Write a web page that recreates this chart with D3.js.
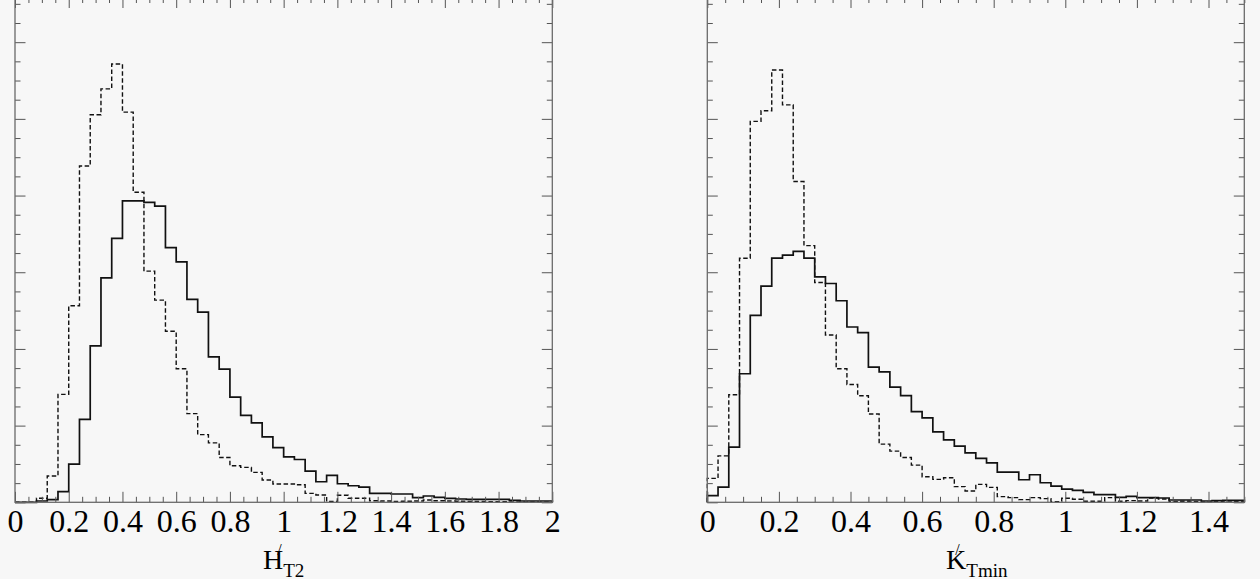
<!DOCTYPE html>
<html>
<head>
<meta charset="utf-8">
<script src="https://cdn.jsdelivr.net/npm/d3@7"></script>
<style>
  html, body { margin: 0; padding: 0; background: #f7f7f7; }
  svg { display: block; }
  .serif, .serif text { font-family: "Liberation Serif", "Times New Roman", "DejaVu Serif", serif; }
</style>
</head>
<body>
<svg id="chart" width="1260" height="579"></svg>
<script>
// ---------------- data ----------------
// Left panel: H'_T2, 50 bins over [0, 2]
const hRange = [0, 2];
const hSolid = [0, 0, 1.7, 3.5, 13.9, 49.8, 108.2, 203.9, 292.7, 344.2,
  393.1, 393.1, 391.0, 386.2, 332.1, 313.5, 264.5, 248.1, 189.6, 173.6,
  137.2, 113.4, 103.5, 85.3, 71.4, 59.3, 55.8, 40.7, 26.8, 35.1,
  24.2, 21.6, 19.9, 11.7, 11.7, 10.8, 10.8, 6.1, 8.2, 6.5,
  5.2, 4.3, 3.9, 3.9, 3.9, 3.9, 2.6, 1.7, 1.7, 1.7];
const hDashed = [0, 0, 5.2, 34.2, 140.7, 256.3, 438.6, 505.3, 539.1, 571.6,
  508.8, 404.4, 301.4, 263.7, 223.0, 174.1, 115.6, 88.3, 77.5, 58.5,
  47.6, 45.5, 39.0, 29.0, 23.8, 23.8, 22.9, 11.7, 9.5, 1.0,
  9.1, 5.2, 5.2, 2.0, 1.7, 1.0, 1.3, 1.7, 3.0, 2.0,
  1.7, 1.3, 1.0, 1.0, 0.8, 0.8, 0.6, 0.6, 0.5, 0.5];
const hTickLabels = ["0", "0.2", "0.4", "0.6", "0.8", "1", "1.2", "1.4", "1.6", "1.8", "2"];

// Right panel: K'_Tmin, 50 bins over [0, 1.5]
const kRange = [0, 1.5];
const kSolid = [8.7, 19.9, 71.9, 167.6, 243.8, 281.9, 318.3, 322.2, 327.3, 318.3,
  294.0, 285.3, 262.8, 228.6, 221.3, 176.2, 170.2, 150.3, 139.0, 118.2,
  110.0, 91.8, 81.4, 73.2, 64.5, 57.2, 51.5, 39.4, 39.4, 29.4,
  35.9, 25.5, 21.2, 17.3, 15.6, 13.0, 10.0, 10.0, 6.5, 7.8,
  6.1, 6.1, 5.6, 3.0, 3.0, 3.0, 1.7, 2.2, 2.6, 2.6];
const kDashed = [31.2, 60.6, 140.3, 318.3, 496.7, 510.5, 563.8, 518.3, 418.3, 334.7,
  286.6, 218.2, 174.1, 153.7, 139.0, 115.2, 75.8, 66.7, 58.5, 48.5,
  33.3, 29.9, 32.0, 20.4, 14.7, 23.4, 19.5, 7.4, 6.1, 3.5,
  6.1, 4.8, 0.9, 5.2, 3.9, 1.3, 1.3, 6.1, 1.3, 2.2,
  1.7, 5.6, 4.3, 0.9, 1.3, 0.9, 0.4, 1.3, 1.7, 1.3];
const kTickLabels = ["0", "0.2", "0.4", "0.6", "0.8", "1", "1.2", "1.4"];

const yMax = 655;

// ---------------- drawing ----------------
const svg = d3.select("#chart");
svg.append("rect").attr("width", 1260).attr("height", 579).attr("fill", "#f7f7f7");

const frameTop = -2.5, frameBottom = 502.3;
const FF = '"Liberation Serif", "Times New Roman", "DejaVu Serif", serif';

function panel(cfg) {
  const g = svg.append("g");
  const x = d3.scaleLinear().domain(cfg.range).range([cfg.left, cfg.right]);
  const y = d3.scaleLinear().domain([0, yMax]).range([frameBottom, 0]);
  const nb = cfg.solid.length;
  const bw = (cfg.range[1] - cfg.range[0]) / nb;

  function stepPath(vals) {
    const pts = [[cfg.range[0], 0]];
    vals.forEach((v, i) => {
      const lo = cfg.range[0] + i * bw, hi = lo + bw;
      pts.push([lo, v], [hi, v]);
    });
    pts.push([cfg.range[1], 0]);
    return d3.line().x(d => x(d[0])).y(d => y(d[1]))(pts);
  }

  // histograms
  g.append("path").attr("d", stepPath(cfg.dashed))
    .attr("fill", "none").attr("stroke", "#111").attr("stroke-width", 1.4)
    .attr("stroke-dasharray", "4.5,2.5");
  g.append("path").attr("d", stepPath(cfg.solid))
    .attr("fill", "none").attr("stroke", "#111").attr("stroke-width", 1.7);

  // tick values
  const majorX = cfg.labels.map(s => +s);
  const minorX = d3.range(0, Math.round((cfg.range[1] - cfg.range[0]) / 0.05) + 1)
    .map(i => cfg.range[0] + i * 0.05)
    .filter(v => !majorX.some(m => Math.abs(m - v) < 1e-6));
  const majorY = d3.range(0, yMax + 1, 100);
  const minorY = d3.range(0, yMax + 1, 25).filter(v => v % 100 !== 0);

  const tickStyle = sel => {
    sel.select(".domain").remove();
    sel.selectAll(".tick line").attr("stroke", "#555").attr("stroke-width", 1);
  };

  // bottom axis, major with labels
  const bMaj = g.append("g").attr("class", "serif")
    .attr("transform", `translate(0,${frameBottom})`)
    .call(d3.axisBottom(x).tickValues(majorX).tickSize(-10.5).tickPadding(6.5)
      .tickFormat((d, i) => cfg.labels[i]));
  tickStyle(bMaj);
  bMaj.attr("font-family", FF).attr("font-size", 32);
  bMaj.selectAll(".tick text")
    .style("font-family", FF).style("font-size", "32px").attr("fill", "#000");
  g.append("g").attr("transform", `translate(0,${frameBottom})`)
    .call(d3.axisBottom(x).tickValues(minorX).tickSize(-5.5).tickFormat(""))
    .call(tickStyle);

  // top axis
  g.append("g").attr("transform", `translate(0,${frameTop})`)
    .call(d3.axisTop(x).tickValues(majorX).tickSize(-10.5).tickFormat(""))
    .call(tickStyle);
  g.append("g").attr("transform", `translate(0,${frameTop})`)
    .call(d3.axisTop(x).tickValues(minorX).tickSize(-5.5).tickFormat(""))
    .call(tickStyle);

  // left axis
  g.append("g").attr("transform", `translate(${cfg.left},0)`)
    .call(d3.axisLeft(y).tickValues(majorY).tickSize(-10.5).tickFormat(""))
    .call(tickStyle);
  g.append("g").attr("transform", `translate(${cfg.left},0)`)
    .call(d3.axisLeft(y).tickValues(minorY).tickSize(-5.5).tickFormat(""))
    .call(tickStyle);

  // right axis
  g.append("g").attr("transform", `translate(${cfg.right},0)`)
    .call(d3.axisRight(y).tickValues(majorY).tickSize(-10.5).tickFormat(""))
    .call(tickStyle);
  g.append("g").attr("transform", `translate(${cfg.right},0)`)
    .call(d3.axisRight(y).tickValues(minorY).tickSize(-5.5).tickFormat(""))
    .call(tickStyle);

  // frame
  g.append("rect").attr("x", cfg.left).attr("y", frameTop)
    .attr("width", cfg.right - cfg.left).attr("height", frameBottom - frameTop)
    .attr("fill", "none").attr("stroke", "#6a6a6a").attr("stroke-width", 1.3);

  // axis title: Letter ^{/} _{sub}
  const cx = (cfg.left + cfg.right) / 2;
  const t = g.append("text").attr("class", "serif")
    .attr("x", cx + cfg.shift).attr("y", 568.5)
    .attr("text-anchor", "middle")
    .style("font-family", FF).attr("fill", "#000");
  t.append("tspan").style("font-size", "28px").text(cfg.letter);
  t.append("tspan").style("font-size", "16px")
    .attr("dx", cfg.primeDx).attr("dy", -14).text("/");
  t.append("tspan").style("font-size", "19px")
    .attr("dx", cfg.subDx).attr("dy", 22).text(cfg.sub);
}

panel({ left: 15, right: 552.3, range: hRange, solid: hSolid, dashed: hDashed,
  labels: hTickLabels, letter: "H", sub: "T2", shift: 0, primeDx: -6, subDx: 1.5 });
panel({ left: 707.3, right: 1244.3, range: kRange, solid: kSolid, dashed: kDashed,
  labels: kTickLabels, letter: "K", sub: "Tmin", shift: 1, primeDx: -11, subDx: 6.5 });
</script>
</body>
</html>
